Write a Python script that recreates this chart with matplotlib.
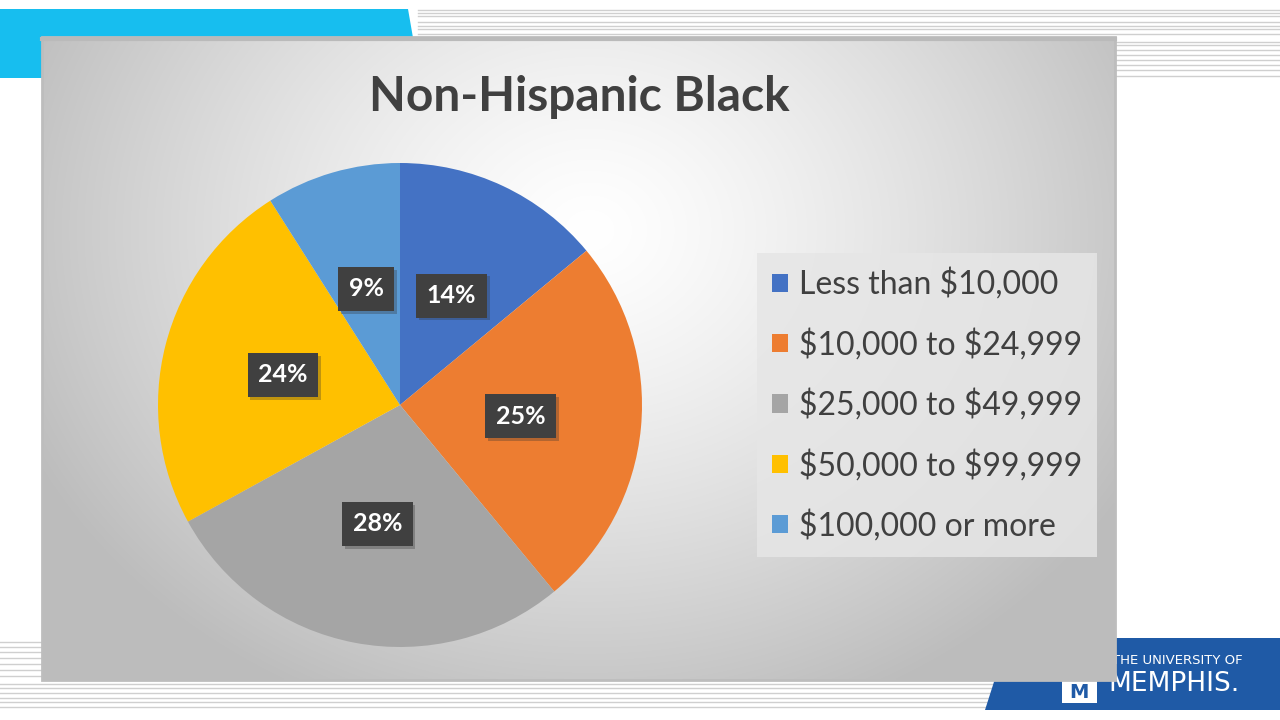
import numpy as np
import matplotlib
matplotlib.use('Agg')
import matplotlib.pyplot as plt
from matplotlib.patches import Polygon, Rectangle
import matplotlib.patheffects as pe

# Datos del gráfico
titulo = 'Non-Hispanic Black'
categorias = ['Less than $10,000', '$10,000 to $24,999', '$25,000 to $49,999',
              '$50,000 to $99,999', '$100,000 or more']
valores = [14, 25, 28, 24, 9]
colores = ['#4472C4', '#ED7D31', '#A5A5A5', '#FFC000', '#5B9BD5']

plt.rcParams['font.family'] = ['Lato', 'DejaVu Sans']
plt.rcParams['text.parse_math'] = False

fig = plt.figure(figsize=(12.8, 7.2), dpi=100)
fig.patch.set_facecolor('white')

# Fondo de la diapositiva en coordenadas de píxel
bg = fig.add_axes([0, 0, 1, 1])
bg.set_xlim(0, 1280)
bg.set_ylim(720, 0)
bg.axis('off')

# Franja cian arriba a la izquierda
bg.add_patch(Polygon([(0, 9), (408, 9), (420, 78), (0, 78)], closed=True,
                     facecolor='#17BEEF', edgecolor='none', zorder=1))

# Líneas grises decorativas
for y in [10, 13, 16, 22, 26, 29, 34]:
    bg.plot([418, 1280], [y, y], color='#cfcfcf', lw=1, zorder=1)
for y in [42, 45, 50, 55, 60, 65, 70, 76]:
    bg.plot([1115, 1280], [y, y], color='#cfcfcf', lw=1, zorder=1)
for y in [642, 647, 652, 658, 664, 670, 676]:
    bg.plot([0, 42], [y, y], color='#cfcfcf', lw=1, zorder=1)
for y in [684, 688, 693, 698, 702, 707]:
    bg.plot([0, 1000], [y, y], color='#cfcfcf', lw=1, zorder=1)

# Logo de la universidad
bg.add_patch(Polygon([(1008, 638), (1280, 638), (1280, 710), (985, 710)], closed=True,
                     facecolor='#1F5AA6', edgecolor='none', zorder=1))
bg.add_patch(Rectangle((1062, 680), 35, 23, facecolor='white', edgecolor='none', zorder=2))
bg.text(1079, 692, 'M', color='#1F5AA6', fontsize=14, fontweight='bold',
        ha='center', va='center', family='DejaVu Sans', zorder=3)
bg.text(1112, 661, 'THE UNIVERSITY OF', color='white', fontsize=9.5,
        ha='left', va='center', family='DejaVu Sans', zorder=3)
bg.text(1108, 684, 'MEMPHIS.', color='white', fontsize=19,
        ha='left', va='center', family='DejaVu Sans', zorder=3)

# Área del gráfico con degradado
xx, yy = np.meshgrid(np.linspace(42, 1115, 400), np.linspace(37, 680, 240))
d = np.sqrt(((xx - 590) / 620) ** 2 + ((yy - 230) / 520) ** 2)
d = np.clip(d, 0, 1)
grad = 1.0 - 0.26 * d ** 1.3
img = np.dstack([grad, grad, grad])
bg.imshow(img, extent=(42, 1115, 680, 37), aspect='auto', zorder=4, interpolation='bilinear')
bg.add_patch(Rectangle((42, 37), 1073, 643, facecolor='none', edgecolor='#bdbdbd',
                       lw=2, zorder=5))
bg.plot([42, 1115], [39, 39], color='#bababa', lw=3, zorder=5)
bg.set_xlim(0, 1280)
bg.set_ylim(720, 0)

# Título
bg.text(579, 97, titulo, fontsize=34.5, fontweight='bold', color='#404040',
        ha='center', va='center', zorder=6)

# Gráfico circular
ax = fig.add_axes([158 / 1280, (720 - 647) / 720, 484 / 1280, 484 / 720])
ax.set_zorder(10)
wedges, textos, autotextos = ax.pie(
    valores, colors=colores, startangle=90, counterclock=False, radius=1,
    autopct=lambda p: f'{p:.0f}%', pctdistance=0.5,
    wedgeprops={'linewidth': 0},
    textprops={'color': 'white', 'fontsize': 18, 'fontweight': 'bold'})
ax.set_xlim(-1, 1)
ax.set_ylim(-1, 1)
ax.set_aspect('auto')

for t in autotextos:
    t.set_bbox(dict(boxstyle='square,pad=0.42', facecolor='#404040', edgecolor='none'))
    t.get_bbox_patch().set_path_effects([
        pe.SimplePatchShadow(offset=(2, -2), shadow_rgbFace='#303030', alpha=0.3),
        pe.Normal()])

# Leyenda
leg = bg.legend(wedges, categorias, loc='upper left',
                bbox_to_anchor=(757, 253), bbox_transform=bg.transData,
                fontsize=23, frameon=True, fancybox=False,
                handlelength=0.5, handleheight=0.5, handletextpad=0.35,
                labelspacing=0.89, borderpad=0.47, borderaxespad=0)
leg.set_zorder(20)
leg.get_frame().set_facecolor('#e6e6e6')
leg.get_frame().set_alpha(0.85)
leg.get_frame().set_edgecolor('none')
for t in leg.get_texts():
    t.set_color('#404040')

plt.savefig('out.png', dpi=100)
